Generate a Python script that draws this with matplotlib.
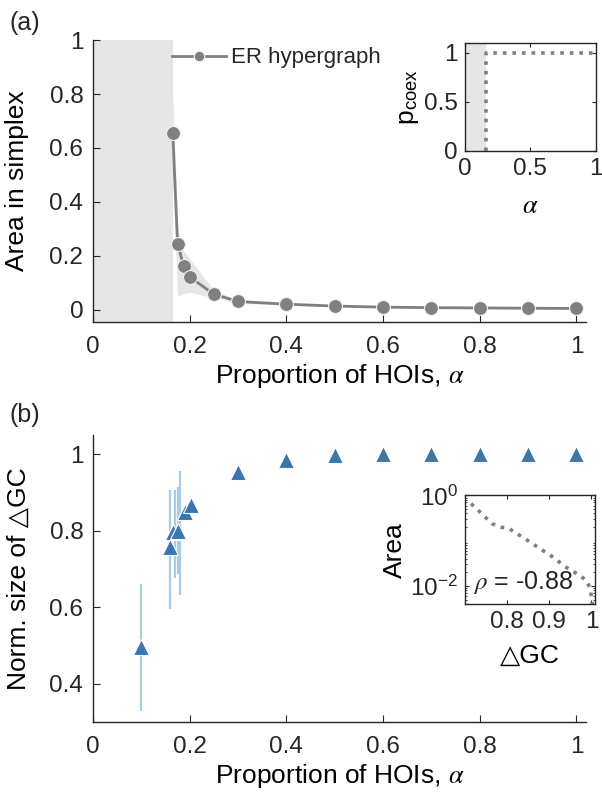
import matplotlib
matplotlib.use("Agg")
import matplotlib.pyplot as plt
from matplotlib.ticker import FuncFormatter, LogLocator, NullFormatter

plt.rcParams['font.family'] = ['Liberation Sans', 'DejaVu Sans']
plt.rcParams['mathtext.fontset'] = 'custom'
plt.rcParams['mathtext.rm'] = 'Liberation Sans'
plt.rcParams['mathtext.it'] = 'STIXGeneral:italic'
plt.rcParams['mathtext.sf'] = 'Liberation Sans'
plt.rcParams['axes.linewidth'] = 1.0
plt.rcParams['axes.edgecolor'] = '#262626'
plt.rcParams['xtick.color'] = '#262626'
plt.rcParams['ytick.color'] = '#262626'
plt.rcParams['text.color'] = '#262626'

# (a) area in simplex vs proportion of HOIs
alpha_a = [0.165, 0.175, 0.1875, 0.2, 0.25, 0.3, 0.4, 0.5, 0.6, 0.7, 0.8, 0.9, 1.0]
area = [0.655, 0.245, 0.163, 0.122, 0.058, 0.031, 0.021, 0.014, 0.010, 0.008, 0.007, 0.006, 0.005]
area_lo = [0.50, 0.05, 0.06, 0.065, 0.045, 0.025, 0.017, 0.011, 0.008, 0.006, 0.005, 0.004, 0.003]
area_hi = [0.82, 0.30, 0.22, 0.19, 0.072, 0.037, 0.025, 0.017, 0.012, 0.010, 0.009, 0.008, 0.007]
no_coex_end = 0.165

# (a) inset: probability of coexistence
p_alpha = [0.165, 0.165, 0.2, 0.4, 0.6, 0.8, 1.0]
p_coex = [0.0, 1.0, 1.0, 1.0, 1.0, 1.0, 1.0]

# (b) normalised size of delta GC
alpha_b = [0.1, 0.16, 0.165, 0.176, 0.19, 0.203, 0.3, 0.4, 0.5, 0.6, 0.7, 0.8, 0.9, 1.0]
gc_size = [0.497, 0.756, 0.797, 0.80, 0.848, 0.866, 0.953, 0.985, 0.997, 1.0, 1.0, 1.0, 1.0, 1.0]
err_x = [0.1, 0.159, 0.17, 0.175, 0.179]
err_lo = [0.33, 0.595, 0.675, 0.686, 0.632]
err_hi = [0.66, 0.905, 0.905, 0.915, 0.955]

# (b) inset: area vs delta GC
gc_inset = [0.715, 0.74, 0.764, 0.785, 0.805, 0.84, 0.883, 0.91, 0.94, 0.965, 0.988, 0.998, 1.0, 1.002]
area_inset = [0.66, 0.40, 0.24, 0.20, 0.186, 0.115, 0.063, 0.043, 0.026, 0.019, 0.0135, 0.0085, 0.0055, 0.004]

gray = '#808080'
blue = '#3b76ae'
lightblue = '#a9cbe6'
tick_fs = 17.5
label_fs = 19

fig = plt.figure(figsize=(6.02, 7.94), dpi=100)
fmt = FuncFormatter(lambda v, p: '%g' % v)

# ---- panel (a)
ax1 = fig.add_axes([0.1545, 0.5945, 0.819, 0.355])
ax1.axvspan(0, no_coex_end, color='#e6e6e6', lw=0, zorder=0)
ax1.fill_between(alpha_a, area_lo, area_hi, color='#e6e6e6', lw=0, zorder=1)
ax1.plot(alpha_a, area, '-o', color=gray, lw=2, ms=10, mfc=gray,
         mec='#f0f0f0', mew=0.8, zorder=3, label='ER hypergraph')
ax1.set_xlim(0, 1.02)
ax1.set_ylim(-0.045, 1)
ax1.set_xticks([0, 0.2, 0.4, 0.6, 0.8, 1])
ax1.set_yticks([0, 0.2, 0.4, 0.6, 0.8, 1])
ax1.xaxis.set_major_formatter(fmt)
ax1.yaxis.set_major_formatter(fmt)
ax1.spines['top'].set_visible(False)
ax1.spines['right'].set_visible(False)
ax1.tick_params(direction='in', length=5, labelsize=tick_fs)
ax1.tick_params(axis='x', pad=10)
ax1.tick_params(axis='y', pad=7)
ax1.set_xlabel(r'Proportion of HOIs, $\alpha$', fontsize=label_fs, labelpad=3)
ax1.set_ylabel('Area in simplex', fontsize=label_fs, va='center')
ax1.yaxis.set_label_coords(-0.155, 0.5)
ax1.legend(loc='upper left', bbox_to_anchor=(0.12, 1.045), frameon=False,
           fontsize=16, handlelength=2.4, handletextpad=0.25, markerscale=0.75)
fig.text(0.015, 0.962, '(a)', fontsize=18)

# inset (a)
ax1i = fig.add_axes([0.772, 0.810, 0.218, 0.136])
ax1i.axvspan(0, 0.16, color='#e6e6e6', lw=0, zorder=0)
ax1i.plot(p_alpha, p_coex, ':', color=gray, lw=2.6)
ax1i.set_xlim(0, 1)
ax1i.set_ylim(0, 1.1)
ax1i.set_xticks([0, 0.5, 1])
ax1i.set_yticks([0, 0.5, 1])
ax1i.xaxis.set_major_formatter(fmt)
ax1i.yaxis.set_major_formatter(fmt)
ax1i.tick_params(direction='in', length=3, labelsize=tick_fs, top=True, right=True)
ax1i.tick_params(axis='x', pad=5)
ax1i.tick_params(axis='y', pad=5)
ax1i.set_xlabel(r'$\alpha$', fontsize=label_fs, labelpad=10)
ax1i.set_ylabel(r'p$_{\mathrm{coex}}$', fontsize=label_fs, labelpad=2)

# ---- panel (b)
ax2 = fig.add_axes([0.1545, 0.0907, 0.819, 0.3615])
ax2.vlines(err_x, err_lo, err_hi, color=lightblue, lw=1.6, zorder=1)
ax2.plot(alpha_b, gc_size, '^', color=blue, ms=12, mec='white', mew=0.8, zorder=3)
ax2.set_xlim(0, 1.02)
ax2.set_ylim(0.3, 1.05)
ax2.set_xticks([0, 0.2, 0.4, 0.6, 0.8, 1])
ax2.set_yticks([0.4, 0.6, 0.8, 1])
ax2.xaxis.set_major_formatter(fmt)
ax2.yaxis.set_major_formatter(fmt)
ax2.spines['top'].set_visible(False)
ax2.spines['right'].set_visible(False)
ax2.tick_params(direction='in', length=5, labelsize=tick_fs)
ax2.tick_params(axis='x', pad=10)
ax2.tick_params(axis='y', pad=7)
ax2.set_xlabel(r'Proportion of HOIs, $\alpha$', fontsize=label_fs, labelpad=3)
ax2.set_ylabel('Norm. size of \u25b3GC', fontsize=label_fs, va='center')
ax2.yaxis.set_label_coords(-0.15, 0.5)
fig.text(0.015, 0.468, '(b)', fontsize=18)

# inset (b)
ax2i = fig.add_axes([0.772, 0.239, 0.216, 0.137])
ax2i.plot(gc_inset, area_inset, ':', color=gray, lw=2.6)
ax2i.set_yscale('log')
ax2i.set_xlim(0.7, 1.008)
ax2i.set_ylim(10 ** -2.4, 1)
ax2i.set_xticks([0.8, 0.9, 1])
ax2i.xaxis.set_major_formatter(fmt)
ax2i.set_yticks([1e-2, 1])
ax2i.yaxis.set_minor_locator(LogLocator(base=10, subs=range(2, 10)))
ax2i.yaxis.set_minor_formatter(NullFormatter())
ax2i.tick_params(which='both', direction='in', labelsize=tick_fs, top=True, right=True)
ax2i.tick_params(which='major', length=3)
ax2i.tick_params(which='minor', length=1.5)
ax2i.tick_params(axis='x', pad=5)
ax2i.tick_params(axis='y', pad=5)
ax2i.set_xlabel('\u25b3GC', fontsize=label_fs, labelpad=8)
ax2i.set_ylabel('Area', fontsize=label_fs, labelpad=2)
ax2i.text(0.72, 10 ** -1.91, r'$\rho$ = -0.88', fontsize=18, va='center', ha='left')

fig.savefig('out.png', dpi=100)
